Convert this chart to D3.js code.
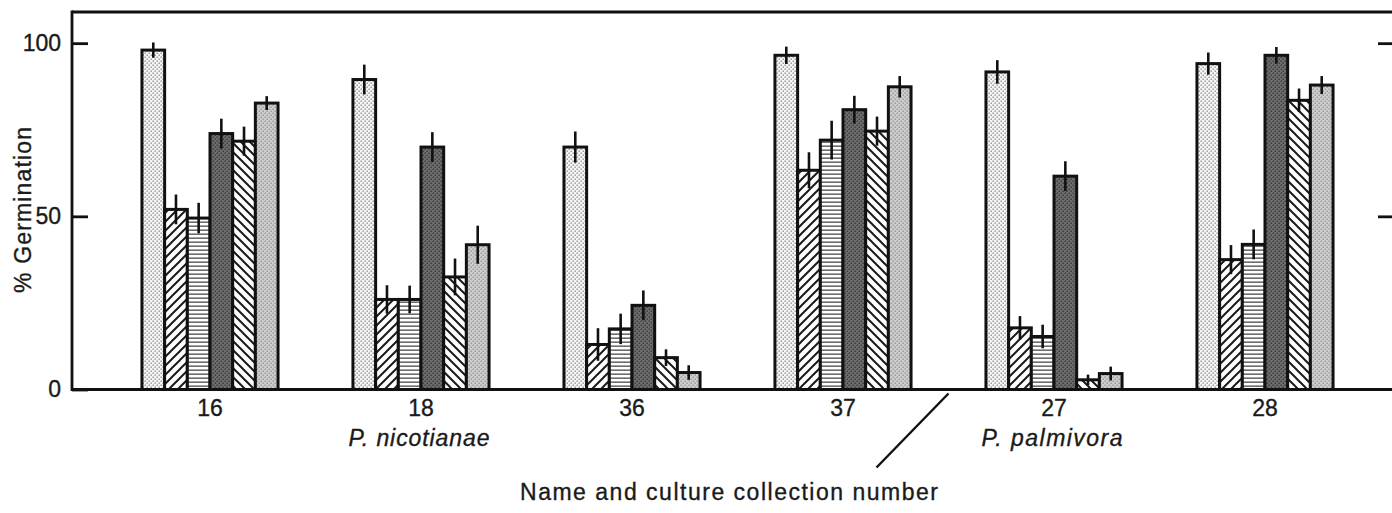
<!DOCTYPE html>
<html>
<head>
<meta charset="utf-8">
<script src="https://cdn.jsdelivr.net/npm/d3@7"></script>
<style>
  html, body { margin: 0; padding: 0; background: #fff; }
  svg { display: block; }
  text { font-family: "Liberation Sans", Arial, Helvetica, sans-serif; fill: #1a1a1a; stroke: #1a1a1a; stroke-width: 0.35px; }
</style>
</head>
<body>
<svg id="chart" width="1392" height="513"></svg>
<script>
// ---- data ----
const groups = ["16", "18", "36", "37", "27", "28"];
const seriesNames = ["s1", "s2", "s3", "s4", "s5", "s6"];
const s1 = [98, 89.5, 70, 96.5, 91.7, 94.1];
const s1err = [2.2, 4.3, 4.5, 2.5, 3.4, 3.2];
const s2 = [52, 26, 13, 63.3, 17.8, 37.5];
const s2err = [4.3, 4.1, 4.7, 5.2, 3.4, 4.2];
const s3 = [49.5, 26, 17.5, 72, 15.3, 41.9];
const s3err = [4.4, 4.0, 4.4, 5.6, 3.4, 4.3];
const s4 = [73.9, 70, 24.3, 80.8, 61.6, 96.5];
const s4err = [4.3, 4.3, 4.3, 4.0, 4.3, 2.4];
const s5 = [71.7, 32.5, 9.2, 74.6, 2.8, 83.5];
const s5err = [4.2, 5.3, 2.4, 4.2, 1.5, 3.4];
const s6 = [82.7, 41.8, 4.9, 87.4, 4.6, 87.9];
const s6err = [2.0, 5.5, 2.1, 3.1, 2.0, 2.6];
const yTicks = [0, 50, 100];
const yLabel = "% Germination";
const xLabel = "Name and culture collection number";
const speciesLabels = [
  { text: "P. nicotianae", group: "18" },
  { text: "P. palmivora", group: "27" }
];

const values = [s1, s2, s3, s4, s5, s6];
const errors = [s1err, s2err, s3err, s4err, s5err, s6err];
const patternIds = ["pDotsLight", "pDiagUp", "pHoriz", "pDark", "pDiagDown", "pGrey"];

const rows = [];
groups.forEach((g, gi) => {
  seriesNames.forEach((s, si) => {
    rows.push({ group: g, series: s, si, value: values[si][gi], err: errors[si][gi] });
  });
});

// ---- layout ----
const svg = d3.select("#chart");
const mLeft = 72, mRight = 1393, mTop = 12, mBottom = 389.5;

const x = d3.scaleBand().domain(groups).range([104.5, 1370.5]).paddingInner(0.355).paddingOuter(0.1775);
const xi = d3.scaleBand().domain(seriesNames).range([0, x.bandwidth()]).padding(0);
const y = d3.scaleLinear().domain([0, 109]).range([mBottom, mTop]);

// ---- patterns ----
const defs = svg.append("defs");
function pat(id, w, h) {
  return defs.append("pattern").attr("id", id).attr("patternUnits", "userSpaceOnUse")
    .attr("width", w).attr("height", h);
}
let p = pat("pDotsLight", 4, 4);
p.append("rect").attr("width", 4).attr("height", 4).attr("fill", "#f5f5f5");
p.append("rect").attr("x", 0.5).attr("y", 0.5).attr("width", 1.4).attr("height", 1.4).attr("fill", "#8f8f8f");
p.append("rect").attr("x", 2.5).attr("y", 2.5).attr("width", 1.4).attr("height", 1.4).attr("fill", "#8f8f8f");

p = pat("pDiagUp", 9, 9);
p.append("rect").attr("width", 9).attr("height", 9).attr("fill", "#fff");
p.append("path").attr("d", "M-2,2 L2,-2 M0,9 L9,0 M7,11 L11,7").attr("stroke", "#1a1a1a").attr("stroke-width", 2);

p = pat("pHoriz", 4, 4);
p.append("rect").attr("width", 4).attr("height", 4).attr("fill", "#fff");
p.append("rect").attr("y", 1.5).attr("width", 4).attr("height", 1.3).attr("fill", "#4a4a4a");

p = pat("pDark", 4, 4);
p.append("rect").attr("width", 4).attr("height", 4).attr("fill", "#6c6c6c");
p.append("rect").attr("x", 0.5).attr("y", 0.5).attr("width", 1.5).attr("height", 1.5).attr("fill", "#404040");
p.append("rect").attr("x", 2.5).attr("y", 2.5).attr("width", 1.5).attr("height", 1.5).attr("fill", "#404040");

p = pat("pDiagDown", 9, 9);
p.append("rect").attr("width", 9).attr("height", 9).attr("fill", "#fff");
p.append("path").attr("d", "M-2,7 L2,11 M0,0 L9,9 M7,-2 L11,2").attr("stroke", "#1a1a1a").attr("stroke-width", 2);

p = pat("pGrey", 4, 4);
p.append("rect").attr("width", 4).attr("height", 4).attr("fill", "#cdcdcd");
p.append("rect").attr("x", 0.5).attr("y", 0.5).attr("width", 1.4).attr("height", 1.4).attr("fill", "#959595");
p.append("rect").attr("x", 2.5).attr("y", 2.5).attr("width", 1.4).attr("height", 1.4).attr("fill", "#959595");

// ---- bars ----
const bars = svg.append("g").attr("class", "bars");
bars.selectAll("rect").data(rows).join("rect")
  .attr("x", d => x(d.group) + xi(d.series))
  .attr("y", d => y(d.value))
  .attr("width", xi.bandwidth())
  .attr("height", d => y(0) - y(d.value))
  .attr("fill", d => "url(#" + patternIds[d.si] + ")")
  .attr("stroke", "#111")
  .attr("stroke-width", 3);

// ---- error bars ----
svg.append("g").attr("class", "errors").selectAll("line").data(rows).join("line")
  .attr("x1", d => x(d.group) + xi(d.series) + xi.bandwidth() / 2)
  .attr("x2", d => x(d.group) + xi(d.series) + xi.bandwidth() / 2)
  .attr("y1", d => y(d.value + d.err))
  .attr("y2", d => y(Math.max(0, d.value - d.err)))
  .attr("stroke", "#111")
  .attr("stroke-width", 2.6);

// ---- axes ----
const yAxis = svg.append("g").attr("transform", `translate(${mLeft},0)`)
  .call(d3.axisLeft(y).tickValues(yTicks).tickSize(-16).tickPadding(11).tickFormat(d3.format("d")));
yAxis.select(".domain").remove();
yAxis.selectAll(".tick line").attr("stroke", "#111").attr("stroke-width", 2.8);
yAxis.selectAll(".tick text").style("font-size", "23px").attr("fill", "#1a1a1a");

const yAxisR = svg.append("g").attr("transform", `translate(${mRight},0)`)
  .call(d3.axisRight(y).tickValues(yTicks.filter(v => v > 0)).tickSize(-15).tickFormat(""));
yAxisR.select(".domain").remove();
yAxisR.selectAll(".tick line").attr("stroke", "#111").attr("stroke-width", 2.8);

const xAxis = svg.append("g").attr("transform", `translate(0,${mBottom})`)
  .call(d3.axisBottom(x).tickSize(0).tickPadding(10));
xAxis.select(".domain").remove();
xAxis.selectAll(".tick text").style("font-size", "23px").attr("fill", "#1a1a1a");

// frame lines
svg.append("line").attr("x1", mLeft).attr("x2", 1392).attr("y1", y(0)).attr("y2", y(0))
  .attr("stroke", "#111").attr("stroke-width", 3);
svg.append("line").attr("x1", mLeft).attr("x2", 1392).attr("y1", mTop).attr("y2", mTop)
  .attr("stroke", "#111").attr("stroke-width", 2.8);
svg.append("line").attr("x1", mLeft).attr("x2", mLeft).attr("y1", mTop - 1.4).attr("y2", y(0) + 1.5)
  .attr("stroke", "#111").attr("stroke-width", 2.8);

// ---- labels ----
svg.append("text")
  .attr("transform", "translate(31,210) rotate(-90)")
  .attr("text-anchor", "middle")
  .attr("textLength", 166).attr("lengthAdjust", "spacing")
  .style("font-size", "23px")
  .text(yLabel);

svg.selectAll(".species").data(speciesLabels).join("text")
  .attr("class", "species")
  .attr("x", d => x(d.group) + x.bandwidth() / 2 - 2)
  .attr("y", 446)
  .attr("text-anchor", "middle")
  .attr("textLength", 141).attr("lengthAdjust", "spacing")
  .style("font-size", "23px").style("font-style", "italic")
  .text(d => d.text);

svg.append("text")
  .attr("x", 729).attr("y", 500)
  .attr("text-anchor", "middle")
  .attr("textLength", 418).attr("lengthAdjust", "spacing")
  .style("font-size", "23px")
  .text(xLabel);

// separator slash between the two species
const sepX = (x("37") + x("27") + x.bandwidth()) / 2;
svg.append("line")
  .attr("x1", sepX).attr("y1", mBottom + 4)
  .attr("x2", sepX - 72).attr("y2", mBottom + 78)
  .attr("stroke", "#111").attr("stroke-width", 2.4);
</script>
</body>
</html>
